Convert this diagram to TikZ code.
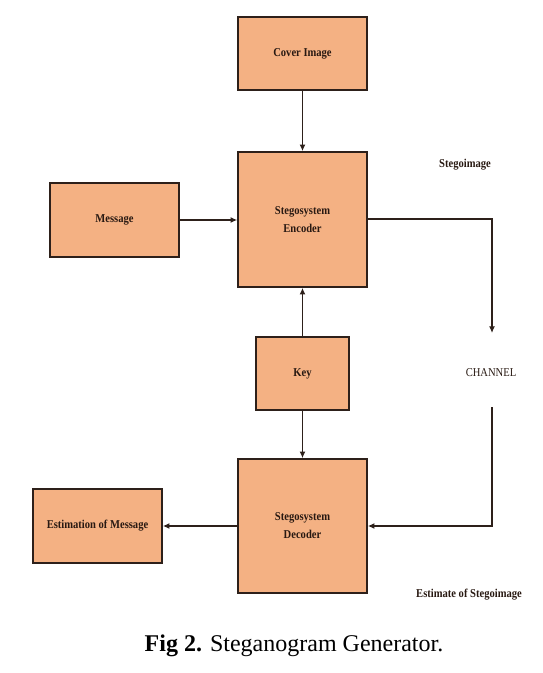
\documentclass[tikz,border=0pt]{standalone}
\usepackage{fontspec}
\setmainfont{Liberation Serif}
\usepackage{tikz}
\usetikzlibrary{arrows.meta}
\definecolor{boxfill}{RGB}{244,177,131}
\definecolor{boxline}{RGB}{45,32,26}
\definecolor{labeltext}{RGB}{40,25,18}
\newcommand{\narrowtext}[1]{\scalebox{0.88}[1]{#1}}
\tikzset{every picture/.style={line width=0.75pt}}
\tikzset{
  blockbox/.style={draw=boxline, fill=boxfill, line width=1.2pt, text=labeltext,
    font=\fontsize{9}{13.5}\selectfont\bfseries, align=center, inner sep=0pt},
  flowarrow/.style={draw=boxline, line width=0.95pt, -{Latex[length=5pt,width=4.5pt]}},
  sidelabel/.style={text=labeltext, font=\fontsize{9}{10}\selectfont\bfseries, inner sep=0.75pt},
}

\begin{document}
\begin{tikzpicture}[x=0.75pt,y=0.75pt,yscale=-1,xscale=1]
    \useasboundingbox (0,0) rectangle (542,673);
    % blocks
    \node [blockbox, minimum width=96.75pt, minimum height=54.75pt] (cover) at (302.5,53.5) {\narrowtext{Cover Image}};
    \node [blockbox, minimum width=96.75pt, minimum height=101.25pt] (encoder) at (302.5,219.5) {\narrowtext{Stegosystem}\\\narrowtext{Encoder}};
    \node [blockbox, minimum width=96.75pt, minimum height=55.5pt] (message) at (114.5,220) {\narrowtext{Message}};
    \node [blockbox, minimum width=69.75pt, minimum height=54.75pt] (key) at (302.5,373.5) {\narrowtext{Key}};
    \node [blockbox, minimum width=96.75pt, minimum height=100.5pt] (decoder) at (302.5,526) {\narrowtext{Stegosystem}\\\narrowtext{Decoder}};
    \node [blockbox, minimum width=96.75pt, minimum height=55.5pt] (estimation) at (97.5,526) {\narrowtext{Estimation of Message}};
    % labels
    \node [sidelabel] (stegolabel) at (465,165) {\narrowtext{Stegoimage}};
    \node [sidelabel, font=\fontsize{9}{10}\selectfont] (channel) at (491,373) {\narrowtext{CHANNEL}};
    \node [sidelabel] (estlabel) at (469,595) {\narrowtext{Estimate of Stegoimage}};
    \node [font=\fontsize{18}{20}\selectfont, inner sep=0.75pt] (caption) at (294,646) {\textbf{Fig 2.} Steganogram Generator.};
    % channel route
    \coordinate (stegoturn) at (492,219);
    \coordinate (chanin) at (492,333);
    \coordinate (chanout) at (492,407);
    \coordinate (estturn) at (492,526);
    % connectors
    \draw [flowarrow] (cover) -- (encoder);
    \draw [flowarrow] (message.east) -- (message.east -| encoder.west);
    \draw [flowarrow] (key) -- (encoder);
    \draw [flowarrow] (key) -- (decoder);
    \draw [flowarrow] (decoder) -- (estimation);
    \draw [flowarrow] (encoder.east |- stegoturn) -- (stegoturn) -- (chanin);
    \draw [flowarrow] (chanout) -- (estturn) -- (decoder.east |- estturn);
\end{tikzpicture}
\end{document}
